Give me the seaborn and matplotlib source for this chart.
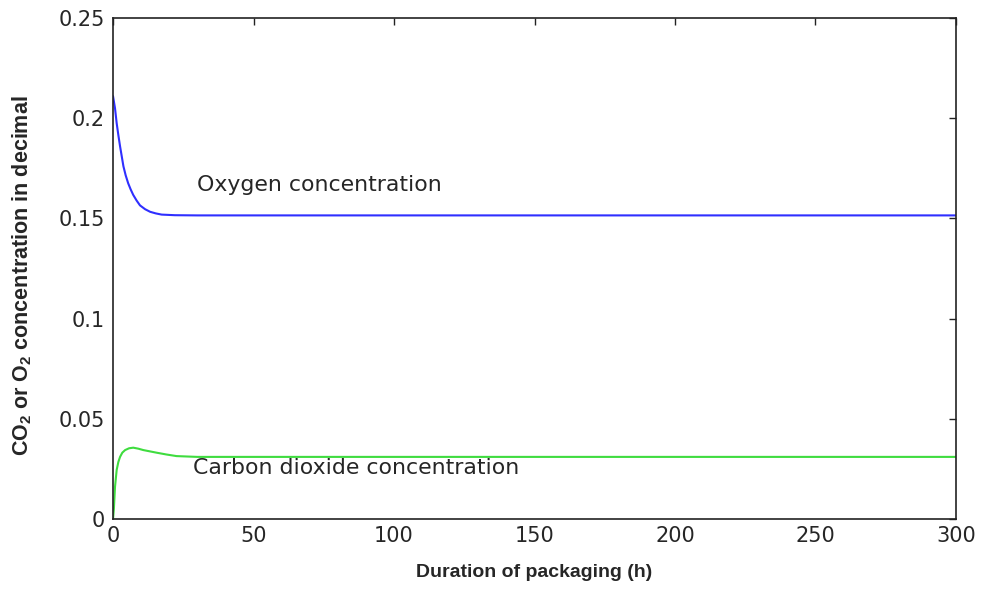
import matplotlib
matplotlib.use("Agg")
import matplotlib.pyplot as plt
import seaborn as sns

# values
o2_hours = [0, 0.7, 1.3, 1.9, 2.5, 3.1, 3.7, 4.5, 5.4, 6.3, 7.2, 8.4, 9.6, 11.4, 13.2, 15.2,
            17.3, 22, 30, 50, 100, 150, 200, 250, 300]
o2_conc = [0.211, 0.205, 0.1975, 0.1915, 0.186, 0.181, 0.176, 0.1715, 0.1675, 0.1644, 0.1617,
           0.1589, 0.1565, 0.1546, 0.1533, 0.1525, 0.1519, 0.1516, 0.1515, 0.1515, 0.1515,
           0.1515, 0.1515, 0.1515, 0.1515]

co2_hours = [0, 0.3, 0.7, 1.3, 1.9, 2.5, 3.3, 4.3, 5.7, 7.2, 9.0, 10.8, 15.5, 19, 22.6, 30,
             50, 100, 150, 200, 250, 300]
co2_conc = [0.0, 0.005, 0.016, 0.0245, 0.0285, 0.031, 0.0331, 0.0344, 0.0353, 0.0356, 0.0351,
            0.0344, 0.0331, 0.0322, 0.0314, 0.031, 0.031, 0.031, 0.031, 0.031, 0.031, 0.031]

x_ticks = [0, 50, 100, 150, 200, 250, 300]
y_ticks = [0, 0.05, 0.1, 0.15, 0.2, 0.25]
y_tick_labels = ["0", "0.05", "0.1", "0.15", "0.2", "0.25"]


def main() -> None:
    sns.set_style("white")
    plt.rcParams["font.family"] = ["DejaVu Sans"]
    plt.rcParams["mathtext.fontset"] = "custom"
    plt.rcParams["mathtext.rm"] = "Liberation Sans:bold"
    plt.rcParams["mathtext.bf"] = "Liberation Sans:bold"

    fig = plt.figure(figsize=(9.82, 5.90), dpi=100)
    ax = fig.add_axes([0.1151, 0.1203, 0.8584, 0.8492])

    sns.lineplot(x=o2_hours, y=o2_conc, ax=ax, color="#2f2fff", linewidth=1.5)
    sns.lineplot(x=co2_hours, y=co2_conc, ax=ax, color="#3fdc3f", linewidth=1.5)

    ax.set_xlim(0, 300)
    ax.set_ylim(0, 0.25)
    ax.set_xticks(x_ticks)
    ax.set_yticks(y_ticks)
    ax.set_yticklabels(y_tick_labels)
    ax.tick_params(direction="in", length=5, width=1, colors="#222222",
                   top=True, right=True, labelsize=15, labelcolor="#262626")
    ax.tick_params(axis="x", pad=5)
    ax.tick_params(axis="y", pad=6)
    for spine in ax.spines.values():
        spine.set_color("#222222")
        spine.set_linewidth(1.2)

    ax.text(30, 0.1665, "Oxygen concentration", fontsize=15.8, color="#262626",
            va="center", ha="left")
    ax.text(28.5, 0.0255, "Carbon dioxide concentration", fontsize=15.8, color="#262626",
            va="center", ha="left")

    ax.set_xlabel("Duration of packaging (h)", fontfamily="Liberation Sans",
                  fontweight="bold", fontsize=14, labelpad=13)
    ax.set_ylabel(r"CO$_2$ or O$_2$ concentration in decimal", fontfamily="Liberation Sans",
                  fontweight="bold", fontsize=15.5)
    ax.yaxis.set_label_coords(-0.094, 0.485)

    fig.savefig("out.png", dpi=100)
    plt.close(fig)


if __name__ == "__main__":
    main()
